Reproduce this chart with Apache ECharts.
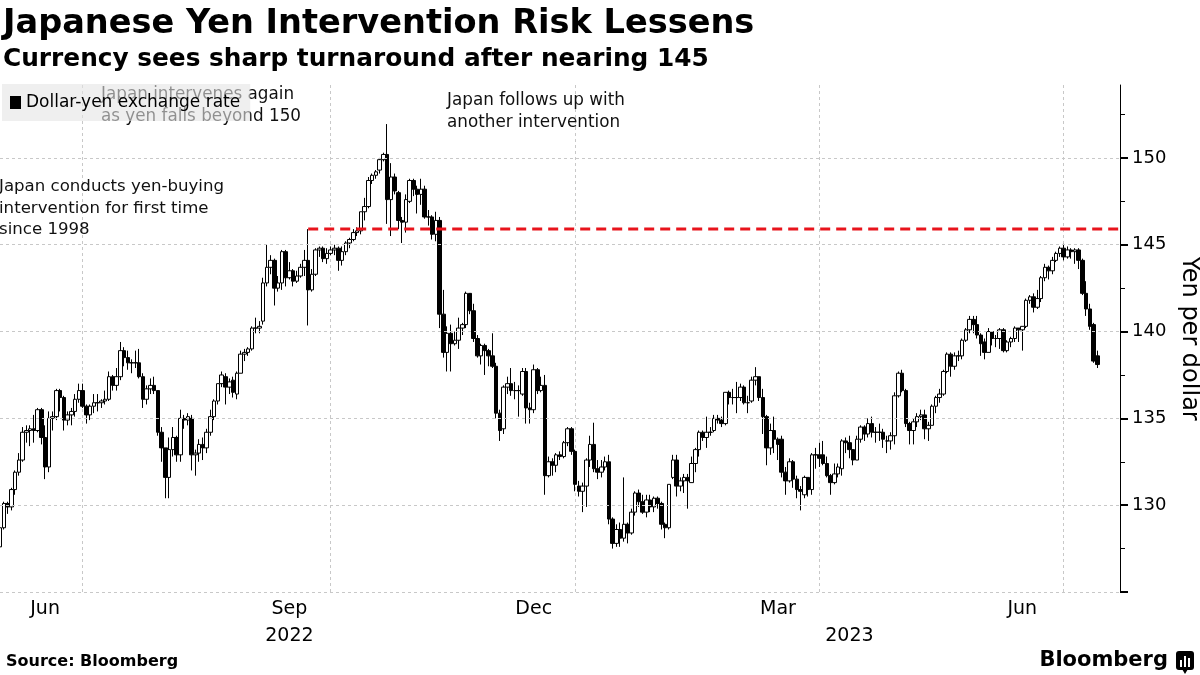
<!DOCTYPE html>
<html><head><meta charset="utf-8">
<script src="https://cdn.jsdelivr.net/npm/echarts@6/dist/echarts.min.js"></script>
<style>html,body{margin:0;padding:0;background:#fff}#c{width:1200px;height:675px}</style>
</head><body><div id="c"></div>
<script>
// ---- data: daily USD/JPY candles [open, close, low, high] ----
const firstDate = '2022-05-31';
const may22 = [[127.6,128.7,127.5,128.9]];
const jun22 = [
[128.7,130.1,128.6,130.2],[130.1,129.9,129.5,130.2],[129.9,130.9,129.7,131.0],[130.9,131.9,130.6,132.0],
[131.9,132.6,131.7,133.0],[132.6,134.2,132.5,134.5],[134.2,134.3,133.6,134.6],[134.3,134.4,133.4,134.6],
[134.4,134.3,133.6,135.2],[134.3,135.5,134.2,135.6],[135.5,133.9,133.5,135.6],[133.9,132.2,131.5,134.6],
[132.2,135.0,131.9,135.4],[135.0,135.1,134.3,135.4],[135.1,136.6,134.9,136.7],[136.6,136.2,135.4,136.7],
[136.2,134.9,134.3,136.3],[134.9,135.2,134.6,135.4],[135.2,135.4,134.6,135.6],[135.4,136.1,135.1,136.4],
[136.1,136.6,135.9,137.0],[136.6,135.7,135.6,137.0]];
const jul22 = [
[135.7,135.2,134.7,135.8],[135.2,135.7,134.9,135.8],[135.7,135.9,135.3,136.4],[135.9,135.9,135.4,136.4],
[135.9,136.0,135.6,136.1],[136.0,136.1,135.8,136.6],[136.1,137.4,136.0,137.7],[137.4,136.9,136.6,137.5],
[136.9,137.4,136.6,137.9],[137.4,138.9,137.2,139.4],[138.9,138.5,138.0,139.1],[138.5,138.2,137.8,138.9],
[138.2,138.2,137.6,138.4],[138.2,138.2,137.9,138.9],[138.2,137.4,137.3,139.0],[137.4,136.1,135.6,137.6],
[136.1,136.7,135.8,136.9],[136.7,136.9,136.4,137.3],[136.9,136.6,136.4,137.4],[136.6,134.2,134.0,136.6],
[134.2,133.3,132.5,134.5]];
const aug22 = [
[133.3,131.6,130.4,133.3],[131.6,133.2,130.4,133.9],[133.2,133.9,132.8,134.5],[133.9,132.9,132.5,134.0],
[132.9,135.0,132.5,135.5],[135.0,134.9,134.4,135.2],[134.9,135.1,134.6,135.3],[135.0,132.9,132.0,135.2],
[132.9,133.0,131.7,133.2],[133.0,133.5,132.5,133.8],[133.5,133.3,132.6,133.9],[133.3,134.2,133.0,134.4],
[134.2,135.1,134.0,135.5],[135.1,136.0,134.9,136.1],[136.0,137.0,135.8,137.0],[137.0,137.5,136.8,137.7],
[137.4,136.8,135.8,137.6],[136.8,137.1,136.4,137.3],[137.2,136.5,136.2,137.4],[136.4,137.6,136.1,137.7],
[137.6,138.7,137.6,138.9],[138.7,138.8,138.3,139.0],[138.8,139.0,138.6,139.1]];
const sep22 = [
[139.0,140.2,138.9,140.3],[140.2,140.2,139.9,140.8],[140.2,140.3,139.9,140.6],[140.6,142.8,140.4,143.1],
[142.8,143.7,142.6,145.0],[143.7,144.1,143.3,144.4],[144.1,142.5,141.5,144.2],[142.5,142.8,142.3,143.2],
[142.8,144.6,142.4,144.7],[144.6,143.1,142.6,144.7],[143.1,143.5,143.0,144.0],[143.5,142.9,142.6,143.6],
[142.9,143.2,142.8,143.5],[143.2,143.7,143.1,143.9],[143.7,144.1,143.2,144.7],[144.1,142.4,140.35,145.9],
[142.4,143.3,142.3,143.6],[143.3,144.7,143.2,144.8],[144.7,144.8,144.3,144.9],[144.8,144.2,144.0,144.9],
[144.2,144.5,143.9,144.8],[144.5,144.7,144.4,144.9]];
const oct22 = [
[144.7,144.8,144.4,145.0],[144.8,144.1,143.5,144.9],[144.1,144.6,143.8,144.9],[144.6,145.1,144.4,145.2],
[145.1,145.3,144.8,145.4],[145.3,145.7,145.2,145.9],[145.7,145.8,145.5,146.0],[145.8,146.9,145.6,146.9],
[146.9,147.2,146.4,147.7],[147.2,148.7,147.1,148.9],[148.7,149.0,148.5,149.1],[149.0,149.2,148.8,149.3],
[149.3,149.9,149.1,150.0],[149.9,150.2,149.8,150.3],[150.2,147.6,146.2,151.95],[147.6,148.9,145.5,149.7],
[148.9,148.1,147.9,149.1],[148.0,146.4,145.9,148.1],[146.4,146.3,145.1,146.6],[146.3,147.6,145.7,147.9],
[147.5,148.7,147.4,148.8]];
const nov22 = [
[148.7,148.2,147.8,148.8],[148.2,147.9,146.8,148.4],[147.9,148.2,147.3,148.8],[148.2,146.6,146.5,148.4],
[146.6,146.6,146.1,147.0],[146.6,145.6,145.3,146.7],[145.6,146.4,145.2,146.9],[146.4,141.0,140.2,146.6],
[141.0,138.8,138.5,142.4],[138.8,139.9,137.7,140.3],[139.9,139.3,137.7,140.4],[139.3,139.5,139.2,140.0],
[139.5,140.2,139.0,140.8],[140.2,140.4,139.8,140.5],[140.4,142.2,140.2,142.3],[142.2,141.2,141.0,142.2],
[141.2,139.6,139.4,141.6],[139.6,138.6,138.5,139.8],[138.6,139.2,138.1,139.3],[139.2,138.9,137.5,139.3],
[138.9,138.6,138.0,139.0],[138.6,138.0,137.9,139.9]];
const dec22 = [
[138.0,135.3,135.0,138.2],[135.3,134.3,133.7,135.5],[134.4,136.8,134.1,136.9],[136.8,137.0,136.4,137.4],
[137.0,136.6,136.3,137.9],[136.6,136.6,136.1,137.1],[136.6,136.6,135.1,136.9],[136.4,137.7,136.3,137.9],
[137.7,135.6,134.7,137.9],[135.6,135.5,134.7,135.9],[135.5,137.8,135.3,138.1],[137.8,136.6,136.4,137.9],
[136.6,136.9,136.5,137.4],[136.9,131.7,130.6,137.5],[131.7,132.5,131.6,132.8],[132.5,132.3,131.7,132.7],
[132.3,132.9,131.9,133.0],[132.9,132.8,132.6,133.1],[132.8,133.6,132.7,133.7],[133.6,134.4,133.4,134.5],
[134.4,133.1,132.9,134.5],[133.1,131.2,130.8,133.2]];
const jan23 = [
[131.1,130.8,130.5,131.4],[130.8,131.1,129.6,131.3],[131.1,132.6,129.9,132.7],[132.6,133.5,132.2,134.0],
[133.5,132.1,131.9,134.75],[132.1,131.9,131.5,132.6],[131.9,132.2,131.6,132.6],[132.2,132.5,132.0,132.8],
[132.5,129.2,128.9,132.9],[129.2,127.8,127.5,129.3],[127.8,128.6,127.6,128.9],[128.6,128.1,127.6,129.0],
[128.1,128.9,127.9,131.6],[128.9,128.4,127.8,129.0],[128.4,129.6,128.3,129.8],[129.6,130.7,129.4,130.8],
[130.7,130.2,129.9,130.9],[130.2,129.6,129.5,130.6],[129.6,130.3,129.3,130.6],[130.3,129.9,129.6,130.6],
[129.9,130.4,129.6,130.5],[130.4,130.1,129.8,130.5]];
const feb23 = [
[130.1,128.9,128.6,130.2],[128.9,128.7,128.1,129.0],[128.7,131.2,128.6,131.2],[131.6,132.6,131.5,132.9],
[132.6,131.1,130.5,132.9],[131.1,131.4,130.8,131.6],[131.4,131.6,130.7,131.8],[131.6,131.4,129.8,131.8],
[131.3,132.4,131.3,132.8],[132.4,133.2,131.9,133.3],[133.2,134.2,132.8,134.3],[134.2,133.9,133.7,134.3],
[133.9,134.2,133.3,135.1],[134.2,134.2,134.0,134.5],[134.3,135.0,134.2,135.2],[135.0,134.9,134.7,135.2],
[134.9,134.7,134.5,135.1],[134.7,136.5,134.6,136.5],[136.5,136.2,135.8,136.6],[136.2,136.2,135.8,136.7]];
const mar23 = [
[136.2,136.2,135.3,137.1],[136.2,136.8,136.0,137.0],[136.8,135.9,135.8,136.9],[135.9,135.9,135.3,136.3],
[136.0,137.2,135.9,137.4],[137.2,137.4,136.9,137.95],[137.4,136.2,136.0,137.4],[136.2,135.1,134.1,136.7],
[135.1,133.3,132.3,135.2],[133.3,134.3,132.9,134.7],[134.3,133.8,133.0,135.1],[133.8,133.5,132.6,133.9],
[133.8,131.9,131.6,134.0],[131.9,131.4,130.6,132.2],[131.4,132.5,131.3,132.7],[132.5,131.5,131.0,132.6],
[131.5,130.9,130.4,131.7],[130.9,130.8,129.7,131.1],[130.6,131.6,130.4,131.7],[131.6,130.9,130.5,131.6],
[130.9,132.9,130.6,133.0],[132.9,132.9,132.1,133.3],[132.9,132.7,132.2,133.6]];
const apr23 = [
[132.9,132.4,132.3,133.7],[132.4,131.7,131.6,132.8],[131.7,131.3,130.6,131.8],[131.3,131.8,131.2,132.4],
[131.8,132.2,131.6,132.4],[132.1,133.7,131.7,133.8],[133.7,133.6,133.0,133.9],[133.6,133.2,132.7,134.0],
[133.2,132.6,132.3,133.2],[132.6,133.8,132.6,134.0],[133.8,134.5,133.6,134.6],[134.5,134.1,133.7,134.6],
[134.1,134.7,133.9,135.0],[134.7,134.2,133.9,135.1],[134.2,134.2,133.6,134.5],[134.2,134.2,133.7,134.7],
[134.2,133.8,133.3,134.4],[133.7,133.7,133.0,134.0],[133.7,134.0,133.2,134.2],[134.0,136.3,133.5,136.5]];
const may23 = [
[136.3,137.6,136.2,137.7],[137.6,136.6,136.5,137.8],[136.6,134.7,134.5,136.7],[134.7,134.3,133.5,134.8],
[134.3,134.8,133.5,135.0],[134.8,135.1,134.5,135.3],[135.1,135.2,134.9,135.5],[135.2,134.4,133.8,135.5],
[134.4,134.6,133.7,134.8],[134.6,135.7,134.6,135.8],[135.7,136.2,135.3,136.3],[136.2,136.4,135.9,136.7],
[136.4,137.7,136.3,137.8],[137.7,138.7,137.6,138.8],[138.7,138.0,137.4,138.8],[138.0,138.6,137.8,138.8],
[138.6,138.6,138.3,138.9],[138.6,139.5,138.4,139.6],[139.5,140.1,139.4,140.2],[140.1,140.7,139.9,140.9],
[140.7,140.4,139.9,140.9],[140.4,139.8,139.6,140.9],[139.8,139.3,138.6,139.9]];
const jun23 = [
[139.4,138.8,138.4,139.6],[138.8,140.0,138.8,140.2],[140.0,139.6,139.2,140.0],[139.6,139.6,139.1,139.8],
[139.6,140.1,139.0,140.2],[140.1,138.9,138.8,140.2],[138.9,139.4,138.8,139.5],[139.4,139.6,139.1,139.7],
[139.6,140.2,139.4,140.3],[140.2,140.1,139.4,140.2],[140.1,140.3,138.9,140.3],[140.3,141.8,140.2,141.9],
[141.8,142.0,141.6,142.1],[142.0,141.4,141.1,142.2],[141.4,141.9,141.3,142.4],[141.9,143.1,141.7,143.2],
[143.1,143.7,142.9,143.9],[143.7,143.5,143.0,143.8],[143.5,144.1,143.3,144.3],[144.1,144.5,144.0,144.6],
[144.5,144.8,144.3,144.9],[144.8,144.3,144.1,145.05]];
const jul23 = [
[144.3,144.7,144.2,144.9],[144.7,144.6,144.2,144.8],[144.6,144.7,143.9,144.8],[144.7,144.1,143.6,144.8],
[144.1,142.2,142.1,144.2],[142.2,141.3,140.9,142.9],[141.3,140.3,140.1,141.6],[140.4,138.3,138.2,140.5],
[138.6,138.1,137.9,138.9]];

const seriesName = 'Dollar-yen exchange rate';
const interventionLevel = 145.9;          // level of the Sep 22, 2022 intervention high
const interventionStart = '2022-09-22';
const yGridValues = [125, 130, 135, 140, 145, 150];
const yTickLabels = [130, 135, 140, 145, 150];
const yMinorTicks = [127.5, 132.5, 137.5, 142.5, 147.5, 152.5];
const monthLabels = {'2022-06-16':'Jun','2022-09-15':'Sep','2022-12-15':'Dec','2023-03-16':'Mar','2023-06-15':'Jun'};
const yearLabels = {'2022-09-15':'2022','2023-04-12':'2023'};
const monthEnds = ['2022-06-30','2022-09-30','2022-12-30','2023-03-31','2023-06-30'];
const trailingEmptyDays = 6;

// ---- build ----
const ohlc = [].concat(may22, jun22, jul22, aug22, sep22, oct22, nov22, dec22,
                       jan23, feb23, mar23, apr23, may23, jun23, jul23);
function weekdays(start, n) {
  const out = []; const d = new Date(start + 'T00:00:00Z');
  while (out.length < n) {
    const w = d.getUTCDay();
    if (w !== 0 && w !== 6) out.push(d.toISOString().slice(0, 10));
    d.setUTCDate(d.getUTCDate() + 1);
  }
  return out;
}
const dates = weekdays(firstDate, ohlc.length + trailingEmptyDays);
const redLine = dates.map(d => d >= interventionStart ? interventionLevel : null);

const FONT = 'DejaVu Sans';
const chart = echarts.init(document.getElementById('c'), null, {renderer: 'canvas'});
chart.setOption({
  animation: false,
  backgroundColor: '#ffffff',
  grid: {left: 0, right: 80, top: 85, bottom: 83, containLabel: false, outerBoundsMode: 'none'},
  legend: {
    left: 2, top: 84, selectedMode: false, z: 10,
    padding: [10, 10, 10, 8], itemWidth: 11, itemHeight: 13, itemGap: 6,
    backgroundColor: 'rgba(228,228,228,0.6)',
    textStyle: {fontFamily: FONT, fontSize: 17, color: '#000'},
    data: [{name: seriesName, icon: 'rect', itemStyle: {color: '#000', borderWidth: 0}}]
  },
  xAxis: [{
    type: 'category', data: dates, boundaryGap: false,
    axisLine: {show: false}, axisTick: {show: false},
    axisLabel: {
      interval: (i, v) => monthLabels[v] !== undefined,
      formatter: v => monthLabels[v] || '',
      color: '#000', fontFamily: FONT, fontSize: 19, margin: 8
    },
    splitLine: {
      show: true, interval: (i, v) => monthEnds.indexOf(v) >= 0,
      lineStyle: {color: '#c8c8c8', type: [3, 3], width: 1}
    }
  }, {
    type: 'category', data: dates, boundaryGap: false, position: 'bottom', offset: 27,
    axisLine: {show: false}, axisTick: {show: false}, splitLine: {show: false},
    axisLabel: {
      interval: (i, v) => yearLabels[v] !== undefined,
      formatter: v => yearLabels[v] || '',
      color: '#000', fontFamily: FONT, fontSize: 19, margin: 8
    }
  }],
  yAxis: [{
    type: 'value', position: 'right', min: 125, max: 154.2, interval: 5,
    axisLine: {show: true, lineStyle: {color: '#000', width: 1}},
    axisTick: {show: true, length: 8, customValues: yGridValues, lineStyle: {color: '#000', width: 2}},
    axisLabel: {customValues: yTickLabels, color: '#000', fontFamily: FONT, fontSize: 18, margin: 12},
    splitLine: {show: false},
    name: 'Yen per dollar', nameLocation: 'middle', nameRotate: -90, nameGap: 50,
    nameTextStyle: {fontFamily: FONT, fontSize: 24, color: '#000'}
  }, {
    type: 'value', position: 'right', min: 125, max: 154.2, interval: 2.5,
    axisLine: {show: false},
    axisTick: {show: true, length: 5, customValues: yMinorTicks, lineStyle: {color: '#000', width: 1}},
    axisLabel: {show: false}, splitLine: {show: false}
  }],
  series: [{
    name: seriesName, type: 'candlestick', data: ohlc, barWidth: 4,
    itemStyle: {color: '#ffffff', color0: '#000000', borderColor: '#000000', borderColor0: '#000000', borderWidth: 1},
    markLine: {
      silent: true, symbol: 'none', label: {show: false}, animation: false,
      lineStyle: {color: '#c8c8c8', type: [3, 3], width: 1},
      data: yGridValues.map(v => ({yAxis: v}))
    },
    z: 3
  }, {
    name: 'intervention', type: 'line', data: redLine, symbol: 'none', connectNulls: false,
    lineStyle: {color: '#e8141c', width: 3, type: [10, 6]}, z: 4, silent: true
  }],
  graphic: [
    {type: 'text', left: 3, top: 7, z: 1, style: {text: 'Japanese Yen Intervention Risk Lessens', fontFamily: FONT, fontWeight: 'bold', fontSize: 33.6, fill: '#000'}},
    {type: 'text', left: 3, top: 47, z: 1, style: {text: 'Currency sees sharp turnaround after nearing 145', fontFamily: FONT, fontWeight: 'bold', fontSize: 24.8, fill: '#000'}},
    {type: 'text', left: -1, top: 176, z: 1, style: {text: 'Japan conducts yen-buying\nintervention for first time\nsince 1998', fontFamily: FONT, fontSize: 16.6, lineHeight: 21.5, fill: '#111'}},
    {type: 'text', left: 101, top: 84, z: 1, style: {text: 'Japan intervenes again\nas yen falls beyond 150', fontFamily: FONT, fontSize: 16.8, lineHeight: 21.5, fill: '#111'}},
    {type: 'text', left: 447, top: 90, z: 1, style: {text: 'Japan follows up with\nanother intervention', fontFamily: FONT, fontSize: 16.8, lineHeight: 21.5, fill: '#111'}},
    {type: 'text', left: 6, top: 654, z: 1, style: {text: 'Source: Bloomberg', fontFamily: FONT, fontWeight: 'bold', fontSize: 16, fill: '#000'}},
    {type: 'text', right: 32, top: 650, z: 1, style: {text: 'Bloomberg', fontFamily: FONT, fontWeight: 'bold', fontSize: 21, fill: '#000'}},
    {type: 'group', left: 1176, top: 651, z: 1, children: [
      {type: 'rect', shape: {x: 0, y: 0, width: 18, height: 19, r: 3}, style: {fill: '#000'}},
      {type: 'polygon', shape: {points: [[6, 18], [12, 18], [9, 23]]}, style: {fill: '#000'}},
      {type: 'rect', shape: {x: 4, y: 9, width: 2, height: 7}, style: {fill: '#fff'}},
      {type: 'rect', shape: {x: 8, y: 5, width: 2, height: 11}, style: {fill: '#fff'}},
      {type: 'rect', shape: {x: 12, y: 7, width: 2, height: 9}, style: {fill: '#fff'}}
    ]}
  ]
});
</script>
</body></html>
